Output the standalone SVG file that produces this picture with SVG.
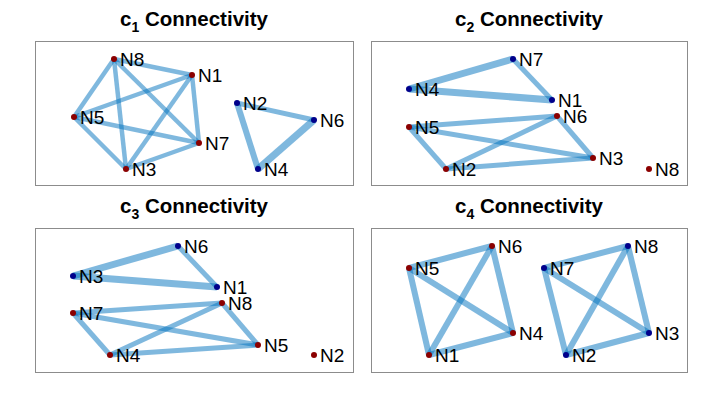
<svg xmlns="http://www.w3.org/2000/svg" width="706" height="415" viewBox="0 0 706 415">
<style>
.frame{fill:#fff;stroke:#8c8c8c;stroke-width:1}
.title{font-family:"Liberation Sans",Arial,sans-serif;font-weight:bold;font-size:20.5px;fill:#000;text-anchor:middle}
.sub{font-size:14px}
.e{stroke:#0072BD;stroke-opacity:0.5;stroke-linecap:butt;fill:none}
.w4{stroke-width:4.5}
.w5{stroke-width:5}
.w6{stroke-width:6}
.w7{stroke-width:7}
.lbl{font-family:"Liberation Sans",Arial,sans-serif;font-size:19px;fill:#000}
.r{fill:#8b0000}
.b{fill:#00008b}
</style>
<rect width="706" height="415" fill="#fff"/>
<g id="panel1">
<rect class="frame" x="35.5" y="41.5" width="318" height="144"/>
<text class="title" x="194" y="26">c<tspan class="sub" dy="6">1</tspan><tspan dy="-6"> Connectivity</tspan></text>
</g>
<g id="panel2">
<rect class="frame" x="371.5" y="41.5" width="316" height="144"/>
<text class="title" x="529" y="26">c<tspan class="sub" dy="6">2</tspan><tspan dy="-6"> Connectivity</tspan></text>
</g>
<g id="panel3">
<rect class="frame" x="35.5" y="228.5" width="318" height="144"/>
<text class="title" x="194" y="213">c<tspan class="sub" dy="6">3</tspan><tspan dy="-6"> Connectivity</tspan></text>
</g>
<g id="panel4">
<rect class="frame" x="371.5" y="228.5" width="316" height="144"/>
<text class="title" x="529" y="213">c<tspan class="sub" dy="6">4</tspan><tspan dy="-6"> Connectivity</tspan></text>
</g>
<g id="connectors">
<!-- panel 1 -->
<line class="e w4" x1="114" y1="59" x2="192" y2="75"/>
<line class="e w4" x1="114" y1="59" x2="74" y2="117"/>
<line class="e w4" x1="114" y1="59" x2="126" y2="169"/>
<line class="e w4" x1="114" y1="59" x2="199" y2="143"/>
<line class="e w4" x1="192" y1="75" x2="74" y2="117"/>
<line class="e w4" x1="192" y1="75" x2="126" y2="169"/>
<line class="e w4" x1="192" y1="75" x2="199" y2="143"/>
<line class="e w4" x1="74" y1="117" x2="199" y2="143"/>
<line class="e w4" x1="74" y1="117" x2="126" y2="169"/>
<line class="e w4" x1="126" y1="169" x2="199" y2="143"/>
<line class="e w5" x1="237" y1="103" x2="314" y2="120"/>
<line class="e w6" x1="237" y1="103" x2="258" y2="169"/>
<line class="e w7" x1="258" y1="169" x2="314" y2="120"/>
<!-- panel 2 -->
<line class="e w7" x1="409" y1="89" x2="513" y2="59"/>
<line class="e w7" x1="409" y1="89" x2="552" y2="100"/>
<line class="e w5" x1="513" y1="59" x2="552" y2="100"/>
<line class="e w5" x1="409" y1="127" x2="557" y2="116"/>
<line class="e w5" x1="409" y1="127" x2="593" y2="158"/>
<line class="e w5" x1="409" y1="127" x2="446" y2="169"/>
<line class="e w5" x1="446" y1="169" x2="557" y2="116"/>
<line class="e w5" x1="446" y1="169" x2="593" y2="158"/>
<line class="e w5" x1="557" y1="116" x2="593" y2="158"/>
<!-- panel 3 -->
<line class="e w7" x1="73" y1="276" x2="178" y2="246"/>
<line class="e w7" x1="73" y1="276" x2="217" y2="287"/>
<line class="e w5" x1="178" y1="246" x2="217" y2="287"/>
<line class="e w5" x1="73" y1="313" x2="222" y2="303"/>
<line class="e w5" x1="73" y1="313" x2="258" y2="345"/>
<line class="e w5" x1="73" y1="313" x2="110" y2="355"/>
<line class="e w5" x1="110" y1="355" x2="222" y2="303"/>
<line class="e w5" x1="110" y1="355" x2="258" y2="345"/>
<line class="e w5" x1="222" y1="303" x2="258" y2="345"/>
<!-- panel 4 -->
<line class="e w6" x1="409" y1="268" x2="492" y2="246"/>
<line class="e w6" x1="492" y1="246" x2="513" y2="333"/>
<line class="e w6" x1="513" y1="333" x2="429" y2="355"/>
<line class="e w6" x1="429" y1="355" x2="409" y2="268"/>
<line class="e w6" x1="409" y1="268" x2="513" y2="333"/>
<line class="e w6" x1="492" y1="246" x2="429" y2="355"/>
<line class="e w6" x1="544" y1="268" x2="628" y2="246"/>
<line class="e w6" x1="628" y1="246" x2="649" y2="333"/>
<line class="e w6" x1="649" y1="333" x2="566" y2="355"/>
<line class="e w6" x1="566" y1="355" x2="544" y2="268"/>
<line class="e w6" x1="544" y1="268" x2="649" y2="333"/>
<line class="e w6" x1="628" y1="246" x2="566" y2="355"/>
</g>
<!-- panel 1 nodes -->
<g id="p1-N8"><circle class="r" cx="114" cy="59" r="3"/><text class="lbl" x="120" y="66">N8</text></g>
<g id="p1-N1"><circle class="r" cx="192" cy="75" r="3"/><text class="lbl" x="198" y="82">N1</text></g>
<g id="p1-N5"><circle class="r" cx="74" cy="117" r="3"/><text class="lbl" x="80" y="124">N5</text></g>
<g id="p1-N7"><circle class="r" cx="199" cy="143" r="3"/><text class="lbl" x="205" y="150">N7</text></g>
<g id="p1-N3"><circle class="r" cx="126" cy="169" r="3"/><text class="lbl" x="132" y="176">N3</text></g>
<g id="p1-N2"><circle class="b" cx="237" cy="103" r="3"/><text class="lbl" x="243" y="110">N2</text></g>
<g id="p1-N6"><circle class="b" cx="314" cy="120" r="3"/><text class="lbl" x="320" y="127">N6</text></g>
<g id="p1-N4"><circle class="b" cx="258" cy="169" r="3"/><text class="lbl" x="264" y="176">N4</text></g>
<!-- panel 2 nodes -->
<g id="p2-N7"><circle class="b" cx="513" cy="59" r="3"/><text class="lbl" x="519" y="66">N7</text></g>
<g id="p2-N4"><circle class="b" cx="409" cy="89" r="3"/><text class="lbl" x="415" y="96">N4</text></g>
<g id="p2-N1"><circle class="b" cx="552" cy="100" r="3"/><text class="lbl" x="558" y="107">N1</text></g>
<g id="p2-N6"><circle class="r" cx="557" cy="116" r="3"/><text class="lbl" x="563" y="123">N6</text></g>
<g id="p2-N5"><circle class="r" cx="409" cy="127" r="3"/><text class="lbl" x="415" y="134">N5</text></g>
<g id="p2-N3"><circle class="r" cx="593" cy="158" r="3"/><text class="lbl" x="599" y="165">N3</text></g>
<g id="p2-N2"><circle class="r" cx="446" cy="169" r="3"/><text class="lbl" x="452" y="176">N2</text></g>
<g id="p2-N8"><circle class="r" cx="649" cy="169" r="3"/><text class="lbl" x="655" y="176">N8</text></g>
<!-- panel 3 nodes -->
<g id="p3-N6"><circle class="b" cx="178" cy="246" r="3"/><text class="lbl" x="184" y="253">N6</text></g>
<g id="p3-N3"><circle class="b" cx="73" cy="276" r="3"/><text class="lbl" x="79" y="283">N3</text></g>
<g id="p3-N1"><circle class="b" cx="217" cy="287" r="3"/><text class="lbl" x="223" y="294">N1</text></g>
<g id="p3-N8"><circle class="r" cx="222" cy="303" r="3"/><text class="lbl" x="228" y="310">N8</text></g>
<g id="p3-N7"><circle class="r" cx="73" cy="313" r="3"/><text class="lbl" x="79" y="320">N7</text></g>
<g id="p3-N5"><circle class="r" cx="258" cy="345" r="3"/><text class="lbl" x="264" y="352">N5</text></g>
<g id="p3-N4"><circle class="r" cx="110" cy="355" r="3"/><text class="lbl" x="116" y="362">N4</text></g>
<g id="p3-N2"><circle class="r" cx="314" cy="355" r="3"/><text class="lbl" x="320" y="362">N2</text></g>
<!-- panel 4 nodes -->
<g id="p4-N6"><circle class="r" cx="492" cy="246" r="3"/><text class="lbl" x="498" y="253">N6</text></g>
<g id="p4-N5"><circle class="r" cx="409" cy="268" r="3"/><text class="lbl" x="415" y="275">N5</text></g>
<g id="p4-N4"><circle class="r" cx="513" cy="333" r="3"/><text class="lbl" x="519" y="340">N4</text></g>
<g id="p4-N1"><circle class="r" cx="429" cy="355" r="3"/><text class="lbl" x="435" y="362">N1</text></g>
<g id="p4-N8"><circle class="b" cx="628" cy="246" r="3"/><text class="lbl" x="634" y="253">N8</text></g>
<g id="p4-N7"><circle class="b" cx="544" cy="268" r="3"/><text class="lbl" x="550" y="275">N7</text></g>
<g id="p4-N3"><circle class="b" cx="649" cy="333" r="3"/><text class="lbl" x="655" y="340">N3</text></g>
<g id="p4-N2"><circle class="b" cx="566" cy="355" r="3"/><text class="lbl" x="572" y="362">N2</text></g>
</svg>
